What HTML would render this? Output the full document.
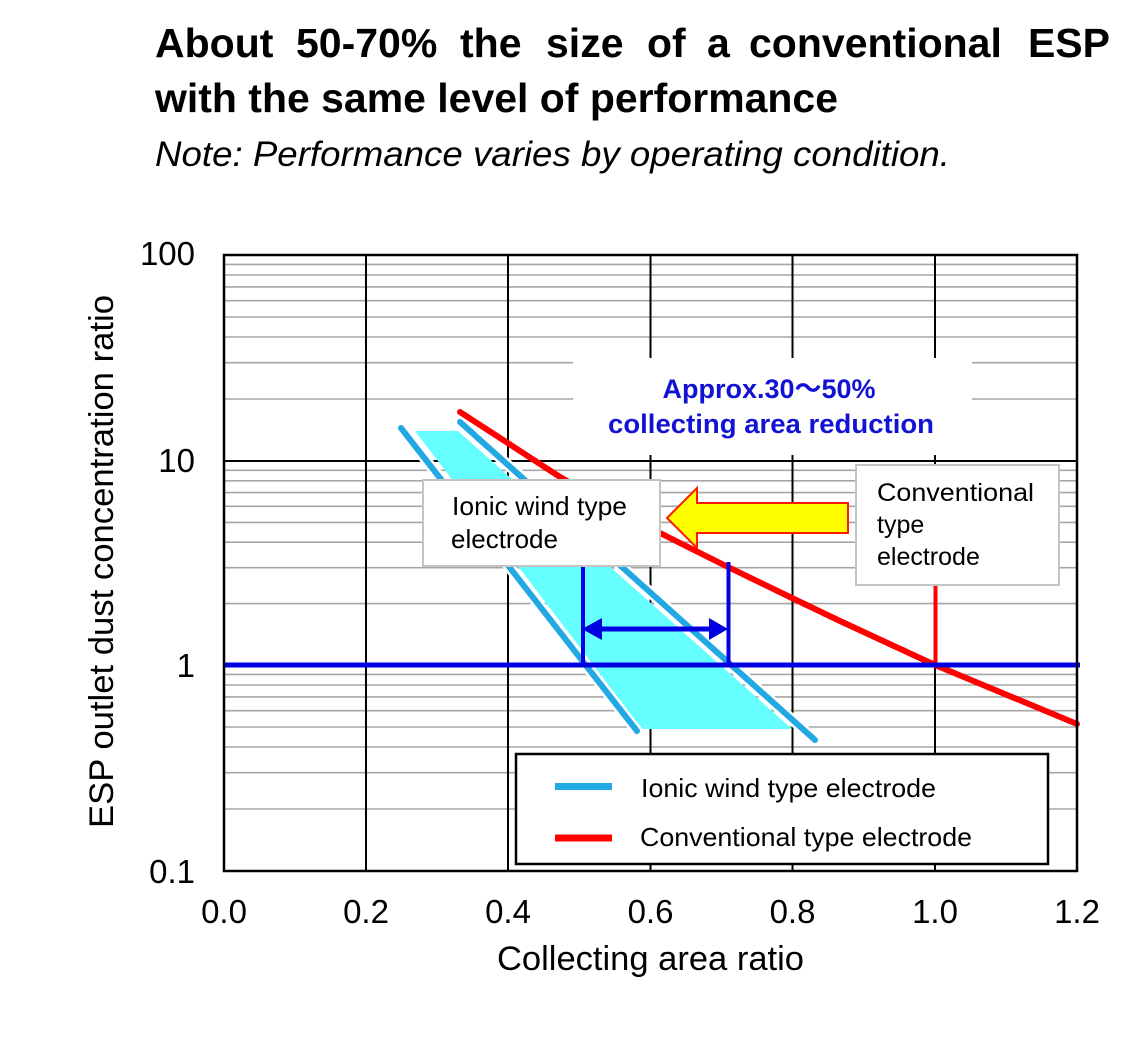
<!DOCTYPE html>
<html>
<head>
<meta charset="utf-8">
<style>
  html, body { margin: 0; padding: 0; background: #ffffff; }
  body { width: 1145px; height: 1042px; overflow: hidden; }
  svg { display: block; }
  text { font-family: "Liberation Sans", "Noto Sans CJK JP", Arial, sans-serif; }
</style>
</head>
<body>
<svg width="1145" height="1042" viewBox="0 0 1145 1042" xmlns="http://www.w3.org/2000/svg">
  <rect x="0" y="0" width="1145" height="1042" fill="#ffffff"/>

  <!-- Title -->
  <g font-weight="bold" font-size="41" fill="#000">
    <text x="155" y="57">About</text>
    <text x="296" y="57">50-70%</text>
    <text x="460" y="57">the</text>
    <text x="546" y="57">size</text>
    <text x="647" y="57">of</text>
    <text x="707" y="57">a</text>
    <text x="749" y="57">conventional</text>
    <text x="1110" y="57" text-anchor="end">ESP</text>
    <text x="155" y="112" textLength="683" lengthAdjust="spacingAndGlyphs">with the same level of performance</text>
  </g>
  <text x="155" y="166" font-size="35" font-style="italic" fill="#000" textLength="795" lengthAdjust="spacingAndGlyphs">Note: Performance varies by operating condition.</text>

  <!-- Minor gridlines -->
  <g stroke="#a6a6a6" stroke-width="1.6">
    <line x1="224" x2="1077" y1="264.4" y2="264.4"/>
    <line x1="224" x2="1077" y1="275" y2="275"/>
    <line x1="224" x2="1077" y1="286.9" y2="286.9"/>
    <line x1="224" x2="1077" y1="300.7" y2="300.7"/>
    <line x1="224" x2="1077" y1="317" y2="317"/>
    <line x1="224" x2="1077" y1="337" y2="337"/>
    <line x1="224" x2="1077" y1="362.7" y2="362.7"/>
    <line x1="224" x2="1077" y1="399" y2="399"/>
    <line x1="224" x2="1077" y1="470.3" y2="470.3"/>
    <line x1="224" x2="1077" y1="480.8" y2="480.8"/>
    <line x1="224" x2="1077" y1="492.6" y2="492.6"/>
    <line x1="224" x2="1077" y1="506.3" y2="506.3"/>
    <line x1="224" x2="1077" y1="522.4" y2="522.4"/>
    <line x1="224" x2="1077" y1="542.2" y2="542.2"/>
    <line x1="224" x2="1077" y1="567.7" y2="567.7"/>
    <line x1="224" x2="1077" y1="603.6" y2="603.6"/>
    <line x1="224" x2="1077" y1="674.4" y2="674.4"/>
    <line x1="224" x2="1077" y1="685" y2="685"/>
    <line x1="224" x2="1077" y1="696.9" y2="696.9"/>
    <line x1="224" x2="1077" y1="710.7" y2="710.7"/>
    <line x1="224" x2="1077" y1="727" y2="727"/>
    <line x1="224" x2="1077" y1="747" y2="747"/>
    <line x1="224" x2="1077" y1="772.7" y2="772.7"/>
    <line x1="224" x2="1077" y1="809" y2="809"/>
  </g>

  <!-- Major gridlines -->
  <g stroke="#000" stroke-width="2">
    <line x1="366" x2="366" y1="255" y2="871"/>
    <line x1="508" x2="508" y1="255" y2="871"/>
    <line x1="650.5" x2="650.5" y1="255" y2="871"/>
    <line x1="792.5" x2="792.5" y1="255" y2="871"/>
    <line x1="935" x2="935" y1="255" y2="871"/>
    <line x1="224" x2="1077" y1="461" y2="461"/>
  </g>

  <!-- Annotation white box -->
  <rect x="573" y="358" width="399" height="97" fill="#ffffff"/>
  <g font-weight="bold" font-size="27" fill="#1212d4" text-anchor="middle">
    <text x="769" y="398" textLength="213" lengthAdjust="spacingAndGlyphs">Approx.30～50%</text>
    <text x="771" y="433" textLength="326" lengthAdjust="spacingAndGlyphs">collecting area reduction</text>
  </g>

  <!-- Cyan band -->
  <polygon points="415,431 458,431 792,729 642,729" fill="#66ffff"/>
  <g stroke="#ffffff" stroke-width="11" stroke-linecap="round">
    <line x1="401" y1="428" x2="637" y2="731"/>
    <line x1="460" y1="422" x2="815" y2="740"/>
  </g>
  <g stroke="#22a8e2" stroke-width="6" stroke-linecap="round">
    <line x1="401" y1="428" x2="637" y2="731"/>
    <line x1="460" y1="422" x2="815" y2="740"/>
  </g>

  <!-- Red conventional curve -->
  <polyline points="460,412 520,451 560,477 600,500 660,533 728,567 792,598 840,621 935,665 1077,724"
            fill="none" stroke="#ff0000" stroke-width="6" stroke-linecap="round" stroke-linejoin="round"/>
  <line x1="935.5" y1="585" x2="935.5" y2="665" stroke="#ff0000" stroke-width="4"/>

  <!-- Blue lines -->
  <line x1="224" y1="665" x2="1080" y2="665" stroke="#0000e0" stroke-width="5"/>
  <line x1="583" y1="560" x2="583" y2="667" stroke="#0000e0" stroke-width="4"/>
  <line x1="728.5" y1="562" x2="728.5" y2="667" stroke="#0000e0" stroke-width="4"/>
  <line x1="598" y1="629" x2="712" y2="629" stroke="#0000e0" stroke-width="5"/>
  <polygon points="582,629 602,618 602,640" fill="#0000e0"/>
  <polygon points="728,629 709,618 709,640" fill="#0000e0"/>

  <!-- Text boxes -->
  <rect x="423" y="480" width="237" height="86" fill="#ffffff" stroke="#c4c4c4" stroke-width="2"/>
  <g font-size="26" fill="#000">
    <text x="452" y="515" textLength="175" lengthAdjust="spacingAndGlyphs">Ionic wind type</text>
    <text x="451" y="548">electrode</text>
  </g>
  <rect x="856" y="465" width="203" height="120" fill="#ffffff" stroke="#c4c4c4" stroke-width="2"/>
  <g font-size="25" fill="#000">
    <text x="877" y="501" textLength="157" lengthAdjust="spacingAndGlyphs">Conventional</text>
    <text x="877" y="533">type</text>
    <text x="877" y="565">electrode</text>
  </g>

  <!-- Yellow arrow -->
  <polygon points="667,518 697,488 697,503 848,503 848,533 697,533 697,548"
           fill="#ffff00" stroke="#ff1a00" stroke-width="2" stroke-linejoin="miter"/>

  <!-- Plot border -->
  <rect x="224" y="255" width="853" height="616" fill="none" stroke="#000" stroke-width="2.5"/>

  <!-- Legend -->
  <rect x="516" y="754" width="532" height="110" fill="#ffffff" stroke="#000" stroke-width="2.5"/>
  <line x1="555" y1="786.5" x2="612" y2="786.5" stroke="#22a8e2" stroke-width="7"/>
  <line x1="555" y1="838" x2="612" y2="838" stroke="#ff0000" stroke-width="7"/>
  <g font-size="26" fill="#000">
    <text x="641" y="797" textLength="295" lengthAdjust="spacingAndGlyphs">Ionic wind type electrode</text>
    <text x="640" y="846" textLength="332" lengthAdjust="spacingAndGlyphs">Conventional type electrode</text>
  </g>

  <!-- Y tick labels -->
  <g font-size="33" fill="#000" text-anchor="end">
    <text x="195" y="265">100</text>
    <text x="195" y="472">10</text>
    <text x="195" y="677">1</text>
    <text x="195" y="883">0.1</text>
  </g>

  <!-- X tick labels -->
  <g font-size="33" fill="#000" text-anchor="middle">
    <text x="224" y="923">0.0</text>
    <text x="366" y="923">0.2</text>
    <text x="508" y="923">0.4</text>
    <text x="650.5" y="923">0.6</text>
    <text x="792.5" y="923">0.8</text>
    <text x="935" y="923">1.0</text>
    <text x="1077" y="923">1.2</text>
  </g>

  <!-- Axis titles -->
  <text x="650.5" y="970" font-size="34" fill="#000" text-anchor="middle" textLength="307" lengthAdjust="spacingAndGlyphs">Collecting area ratio</text>
  <text transform="translate(113,561.5) rotate(-90)" font-size="34" fill="#000" text-anchor="middle" textLength="533" lengthAdjust="spacingAndGlyphs">ESP outlet dust concentration ratio</text>
</svg>
</body>
</html>
